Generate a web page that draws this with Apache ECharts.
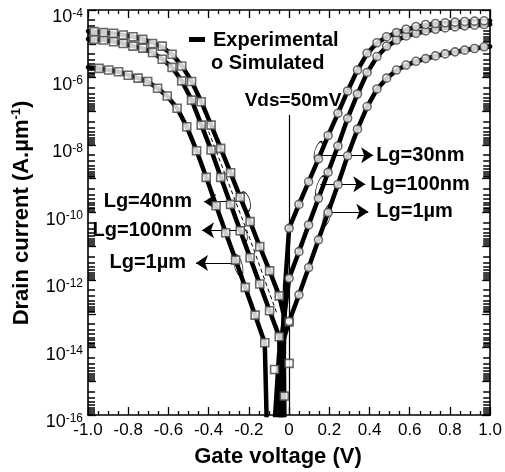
<!DOCTYPE html>
<html>
<head>
<meta charset="utf-8">
<script src="https://cdn.jsdelivr.net/npm/echarts@6/dist/echarts.min.js"></script>
<style>
html, body { margin: 0; padding: 0; background: #fff; }
#main { width: 505px; height: 472px; }
</style>
</head>
<body>
<div id="main"></div>
<script>
// n-type devices (circles), gate voltage of the simulated points
const vN = [0, 0.049, 0.097, 0.146, 0.194, 0.243, 0.291, 0.34, 0.388, 0.437, 0.485, 0.534, 0.582, 0.631, 0.679, 0.728, 0.776, 0.825, 0.873, 0.922, 0.97]
const simN30 = [3.39e-11, 1.74e-10, 8.13e-10, 3.89e-9, 1.91e-8, 8.71e-8, 3.98e-7, 1.66e-6, 5.25e-6, 1.07e-5, 1.62e-5, 2.14e-5, 2.69e-5, 3.24e-5, 3.72e-5, 3.98e-5, 4.17e-5, 4.37e-5, 4.57e-5, 4.68e-5, 4.79e-5]
const simN100 = [1.12e-12, 6.92e-12, 4.27e-11, 2.63e-10, 1.55e-9, 9.33e-9, 6.17e-8, 3.24e-7, 1.41e-6, 4.17e-6, 8.51e-6, 1.29e-5, 1.70e-5, 2.04e-5, 2.40e-5, 2.69e-5, 2.95e-5, 3.16e-5, 3.39e-5, 3.55e-5, 3.72e-5]
const simN1u = [5.89e-14, 3.63e-13, 2.34e-12, 1.55e-11, 1.00e-10, 6.76e-10, 4.79e-9, 2.95e-8, 1.38e-7, 4.57e-7, 9.55e-7, 1.66e-6, 2.34e-6, 3.02e-6, 3.63e-6, 4.37e-6, 5.01e-6, 5.75e-6, 6.46e-6, 7.24e-6, 8.13e-6]

// p-type devices (squares)
const vP = [-0.97, -0.922, -0.873, -0.825, -0.776, -0.728, -0.679, -0.631, -0.582, -0.534, -0.485, -0.437, -0.388, -0.34, -0.291, -0.243, -0.194, -0.146, -0.097, -0.049, 0]
const simP40 = [2.29e-5, 2.14e-5, 2.04e-5, 1.82e-5, 1.62e-5, 1.35e-5, 1.02e-5, 8.51e-6, 4.90e-6, 2.19e-6, 7.59e-7, 1.91e-7, 3.89e-8, 7.94e-9, 1.51e-9, 2.82e-10, 5.37e-11, 9.77e-12, 1.86e-12, 3.39e-13, 5.75e-14]
const simP100 = [1.35e-5, 1.29e-5, 1.15e-5, 1.02e-5, 8.51e-6, 7.41e-6, 5.50e-6, 3.47e-6, 2.00e-6, 7.94e-7, 2.14e-7, 3.89e-8, 7.08e-9, 1.10e-9, 1.74e-10, 2.88e-11, 4.57e-12, 7.59e-13, 1.23e-13, 2.09e-14, 3.39e-15]
const vP1u = [-0.945, -0.897, -0.848, -0.8, -0.751, -0.703, -0.654, -0.606, -0.557, -0.509, -0.46, -0.412, -0.363, -0.315, -0.266, -0.218, -0.169, -0.121, -0.072, -0.024]
const simP1u = [1.86e-6, 1.66e-6, 1.48e-6, 1.17e-6, 9.55e-7, 7.59e-7, 4.79e-7, 2.82e-7, 1.23e-7, 3.47e-8, 6.76e-9, 1.10e-9, 1.58e-10, 2.51e-11, 3.89e-12, 6.03e-13, 9.12e-14, 1.38e-14, 2.24e-15, 3.63e-16]

const expN30 = [[-0.035, 1e-17], [-0.02, 6.3e-13], [0, 3.4e-11], [0.049, 1.74e-10], [0.097, 8.1e-10], [0.146, 3.9e-9], [0.194, 1.9e-8], [0.243, 8.7e-8], [0.291, 4.0e-7], [0.34, 1.66e-6], [0.388, 5.1e-6], [0.437, 1.05e-5], [0.485, 1.6e-5], [0.534, 2.1e-5], [0.582, 2.6e-5], [0.631, 3.1e-5], [0.679, 3.6e-5], [0.728, 3.9e-5], [0.776, 4.1e-5], [0.825, 4.3e-5], [0.873, 4.5e-5], [0.922, 4.65e-5], [1.0, 4.8e-5]]
const expN100 = [[-0.055, 1e-17], [-0.035, 2.5e-14], [0, 1.12e-12], [0.049, 6.9e-12], [0.097, 4.3e-11], [0.146, 2.6e-10], [0.194, 1.55e-9], [0.243, 9.3e-9], [0.291, 6.2e-8], [0.34, 3.2e-7], [0.388, 1.38e-6], [0.437, 4.1e-6], [0.485, 8.3e-6], [0.534, 1.27e-5], [0.582, 1.68e-5], [0.631, 2.02e-5], [0.679, 2.38e-5], [0.728, 2.67e-5], [0.776, 2.93e-5], [0.825, 3.15e-5], [0.873, 3.38e-5], [0.922, 3.55e-5], [1.0, 3.75e-5]]
const expN1u = [[-0.08, 1e-17], [-0.05, 6.3e-15], [0, 5.9e-14], [0.049, 3.6e-13], [0.097, 2.3e-12], [0.146, 1.55e-11], [0.194, 1.0e-10], [0.243, 6.8e-10], [0.291, 4.8e-9], [0.34, 2.9e-8], [0.388, 1.35e-7], [0.437, 4.5e-7], [0.485, 9.4e-7], [0.534, 1.64e-6], [0.582, 2.3e-6], [0.631, 3.0e-6], [0.679, 3.6e-6], [0.728, 4.3e-6], [0.776, 5.0e-6], [0.825, 5.7e-6], [0.873, 6.4e-6], [0.922, 7.2e-6], [1.0, 8.3e-6]]
const expP40 = [[-1.0, 2.35e-5], [-0.97, 2.28e-5], [-0.922, 2.14e-5], [-0.873, 2.03e-5], [-0.825, 1.82e-5], [-0.776, 1.62e-5], [-0.728, 1.36e-5], [-0.679, 1.07e-5], [-0.631, 8.0e-6], [-0.582, 4.9e-6], [-0.534, 2.25e-6], [-0.485, 7.8e-7], [-0.437, 1.95e-7], [-0.388, 3.9e-8], [-0.34, 7.9e-9], [-0.291, 1.5e-9], [-0.243, 2.8e-10], [-0.194, 5.4e-11], [-0.146, 9.8e-12], [-0.097, 1.86e-12], [-0.049, 3.4e-13], [-0.028, 1e-13], [-0.022, 1e-17]]
const expP100 = [[-1.0, 1.38e-5], [-0.97, 1.35e-5], [-0.922, 1.29e-5], [-0.873, 1.16e-5], [-0.825, 1.02e-5], [-0.776, 8.5e-6], [-0.728, 7.3e-6], [-0.679, 5.5e-6], [-0.631, 3.5e-6], [-0.582, 2.0e-6], [-0.534, 8.0e-7], [-0.485, 2.2e-7], [-0.437, 4.0e-8], [-0.388, 7.2e-9], [-0.34, 1.12e-9], [-0.291, 1.75e-10], [-0.243, 2.9e-11], [-0.194, 4.6e-12], [-0.146, 7.6e-13], [-0.097, 1.23e-13], [-0.049, 2.1e-14], [-0.042, 1e-17]]
const expP1u = [[-1.0, 2.0e-6], [-0.945, 1.86e-6], [-0.897, 1.66e-6], [-0.848, 1.48e-6], [-0.8, 1.17e-6], [-0.751, 9.6e-7], [-0.703, 7.6e-7], [-0.654, 4.8e-7], [-0.606, 2.8e-7], [-0.557, 1.23e-7], [-0.509, 3.5e-8], [-0.46, 6.8e-9], [-0.412, 1.1e-9], [-0.363, 1.6e-10], [-0.315, 2.5e-11], [-0.266, 3.9e-12], [-0.218, 6.0e-13], [-0.169, 9.1e-14], [-0.121, 1.38e-14], [-0.108, 1e-17]]
const dashP = [[-0.4, 2.5e-8], [-0.2, 2.0e-11], [-0.06, 1e-13]]

// axis ticks (y ticks are drawn on a decade-exponent axis laid over the log axis)
const xTicks = [-1, -0.8, -0.6, -0.4, -0.2, 0, 0.2, 0.4, 0.6, 0.8, 1]
const yDecades = [-16, -15, -14, -13, -12, -11, -10, -9, -8, -7, -6, -5, -4]
const minorFactors = [2, 3, 4, 5, 6, 7, 8, 9]

// annotations: [label, arrow start, arrow end, ellipse centre, ellipse size, tilt, label gap]
const callouts = [
    ['Lg=30nm', [0.154, 5.0e-9], [0.418, 5.0e-9], [0.145, 7.1e-9], [6, 18], -20, 3],
    ['Lg=100nm', [0.155, 6.9e-10], [0.379, 6.9e-10], [0.155, 5.9e-10], [7, 22], -18, 5],
    ['Lg=1µm', [0.196, 1.05e-10], [0.394, 1.05e-10], [0.19, 8.5e-11], [7, 22], -15, 8],
    ['Lg=40nm', [-0.25, 2.1e-10], [-0.423, 2.1e-10], [-0.217, 2.1e-10], [9, 20], 15, 12],
    ['Lg=100nm', [-0.235, 3.0e-11], [-0.433, 3.0e-11], [-0.225, 2.3e-11], [6, 15], 15, 10],
    ['Lg=1µm', [-0.265, 3.2e-12], [-0.463, 3.2e-12], [-0.253, 2.75e-12], [8, 22], 15, 10],
]
const vdsLine = [[0, 7.8e-8], [0, 1e-16]]

const FONT = '"Liberation Sans", Arial, sans-serif'

// minor ticks sit as the plotting program drew them: packed toward the lower decade
const minorExp = []
yDecades.slice(0, -1).forEach(n => {
    minorFactors.forEach(k => minorExp.push(n + 1 - Math.log10(k)))
})

const pairs = (xs, ys) => ys.map((y, i) => [xs[i], y])

const expSeries = data => ({
    name: 'Experimental',
    type: 'line',
    data,
    showSymbol: false,
    lineStyle: { color: '#000', width: 4.5, join: 'round', cap: 'round' },
    z: 3,
    silent: true,
})

const simSeries = (data, symbol) => ({
    name: 'Simulated',
    type: 'scatter',
    data,
    symbol,
    symbolSize: 8,
    itemStyle: { color: '#fff', borderColor: '#444', borderWidth: 1.6 },
    z: 5,
    silent: true,
})

const tickLine = { color: '#000', width: 1.3 }

const xAxisBase = {
    type: 'value',
    min: -1,
    max: 1,
    interval: 0.2,
    axisLine: { show: true, onZero: false, lineStyle: { color: '#000', width: 1.6 } },
    axisTick: { show: true, inside: true, length: 8, lineStyle: tickLine },
    minorTick: { show: true, splitNumber: 4, length: 4, lineStyle: tickLine },
    splitLine: { show: false },
}

const yExpBase = {
    type: 'value',
    min: yDecades[0],
    max: yDecades[yDecades.length - 1],
    interval: 1,
    splitLine: { show: false },
}

const minorTickAxis = position => ({
    ...yExpBase,
    position,
    axisLine: { show: false, onZero: false },
    axisTick: { show: true, inside: true, length: 7, lineStyle: { color: '#000', width: 1.5 }, customValues: minorExp },
    axisLabel: { show: false },
})

const annotationMarks = {
    name: 'notes',
    type: 'line',
    data: [],
    silent: true,
    markLine: {
        silent: true,
        animation: false,
        symbol: ['none', 'arrow'],
        symbolSize: 12,
        lineStyle: { color: '#000', width: 1.2, type: 'solid' },
        data: callouts.map(c => [
            {
                coord: c[1],
                label: {
                    show: true,
                    position: 'end',
                    formatter: c[0],
                    distance: c[6],
                    color: '#000',
                    fontSize: 20,
                    fontWeight: 'bold',
                    fontFamily: FONT,
                },
            },
            { coord: c[2] },
        ]).concat([
            [
                { coord: vdsLine[0], symbol: 'none', label: { show: false } },
                { coord: vdsLine[1], symbol: 'none' },
            ],
        ]),
    },
    markPoint: {
        silent: true,
        animation: false,
        label: { show: false },
        itemStyle: { color: 'rgba(0,0,0,0)', borderColor: '#000', borderWidth: 1 },
        data: callouts.map(c => ({
            coord: c[3],
            symbol: 'circle',
            symbolSize: c[4],
            symbolRotate: c[5],
        })),
    },
}

const chart = echarts.init(document.getElementById('main'))

chart.setOption({
    animation: false,
    backgroundColor: '#fff',
    grid: { left: 88, right: 13, top: 10, bottom: 57, containLabel: false },
    xAxis: [
        {
            ...xAxisBase,
            position: 'bottom',
            axisLabel: {
                color: '#000',
                fontSize: 17,
                fontFamily: FONT,
                margin: 7,
                showMinLabel: true,
                showMaxLabel: true,
                formatter: v => {
                    const t = xTicks.find(x => Math.abs(x - v) < 1e-6)
                    if (t === undefined) return ''
                    return t === 0 ? '0' : t.toFixed(1)
                },
            },
        },
        { ...xAxisBase, position: 'top', axisLabel: { show: false } },
    ],
    yAxis: [
        { type: 'log', logBase: 10, min: 1e-16, max: 1e-4, show: false },
        {
            ...yExpBase,
            position: 'left',
            axisLine: { show: true, onZero: false, lineStyle: { color: '#000', width: 1.6 } },
            axisTick: { show: true, inside: true, length: 8, lineStyle: tickLine },
            axisLabel: {
                margin: 5,
                showMinLabel: true,
                showMaxLabel: true,
                padding: [15, 0, 0, 0],
                formatter: v => (v % 2 === 0 ? `{b|10}{s|${v}}` : ''),
                rich: {
                    b: { fontSize: 18, fontFamily: FONT, color: '#000', lineHeight: 20 },
                    s: { fontSize: 12, fontFamily: FONT, color: '#000', verticalAlign: 'top', lineHeight: 12 },
                },
            },
        },
        {
            ...yExpBase,
            position: 'right',
            axisLine: { show: true, onZero: false, lineStyle: { color: '#000', width: 1.6 } },
            axisTick: { show: true, inside: true, length: 8, lineStyle: tickLine },
            axisLabel: { show: false },
        },
        minorTickAxis('left'),
        minorTickAxis('right'),
    ],
    graphic: [
        { type: 'rect', shape: { x: 189, y: 37, width: 16, height: 5 }, style: { fill: '#000' } },
        {
            type: 'text', x: 213, y: 40,
            style: { text: 'Experimental', fill: '#000', font: `bold 20px ${FONT}`, verticalAlign: 'middle', textVerticalAlign: 'middle' },
        },
        {
            type: 'text', x: 211, y: 63,
            style: { text: 'o Simulated', fill: '#000', font: `bold 20px ${FONT}`, verticalAlign: 'middle', textVerticalAlign: 'middle' },
        },
        {
            type: 'text', x: 293, y: 101,
            style: { text: 'Vds=50mV', fill: '#000', font: `bold 19px ${FONT}`, align: 'center', textAlign: 'center', verticalAlign: 'middle', textVerticalAlign: 'middle' },
        },
        {
            type: 'text', x: 278, y: 457,
            style: { text: 'Gate voltage (V)', fill: '#000', font: `bold 22px ${FONT}`, align: 'center', textAlign: 'center', verticalAlign: 'middle', textVerticalAlign: 'middle' },
        },
        {
            type: 'text', x: 22, y: 213, rotation: Math.PI / 2,
            style: {
                text: '{a|Drain current (A.µm}{s|-1}{a|)}',
                align: 'center', textAlign: 'center', verticalAlign: 'middle', textVerticalAlign: 'middle',
                rich: {
                    a: { fontSize: 22, fontWeight: 'bold', fontFamily: FONT, fill: '#000', color: '#000', lineHeight: 24 },
                    s: { fontSize: 13, fontWeight: 'bold', fontFamily: FONT, fill: '#000', color: '#000', verticalAlign: 'top', lineHeight: 13 },
                },
            },
        },
    ],
    series: [
        { ...expSeries(dashP), name: 'dash', lineStyle: { color: '#000', width: 1, type: [4, 3] }, z: 2 },
        expSeries(expP1u),
        expSeries(expP100),
        expSeries(expP40),
        expSeries(expN1u),
        expSeries(expN100),
        expSeries(expN30),
        simSeries(pairs(vP1u, simP1u), 'rect'),
        simSeries(pairs(vP, simP100), 'rect'),
        simSeries(pairs(vP, simP40), 'rect'),
        simSeries(pairs(vN, simN1u), 'circle'),
        simSeries(pairs(vN, simN100), 'circle'),
        simSeries(pairs(vN, simN30), 'circle'),
        annotationMarks,
    ],
})
</script>
</body>
</html>
